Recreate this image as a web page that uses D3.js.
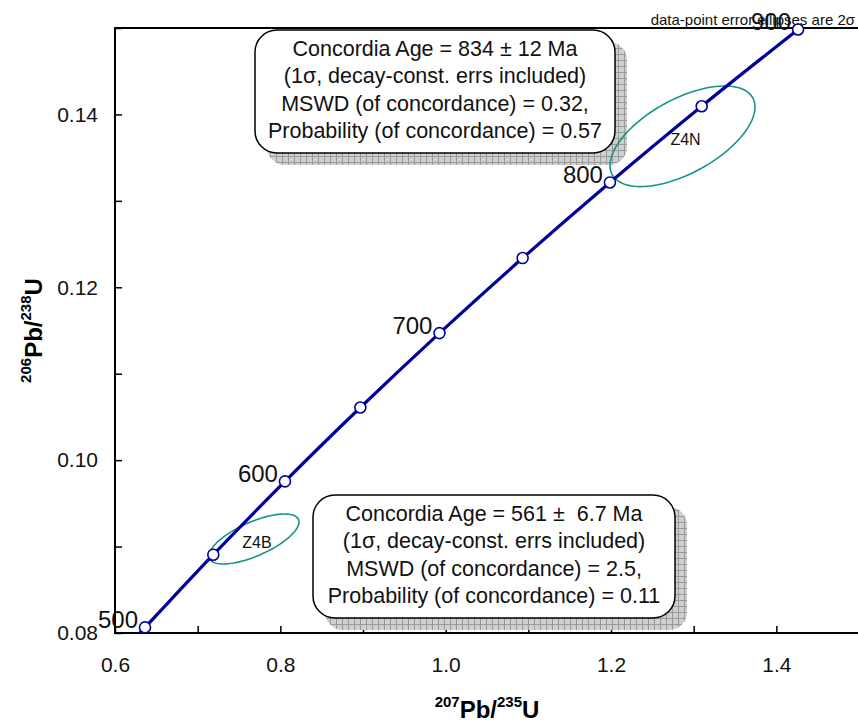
<!DOCTYPE html>
<html>
<head>
<meta charset="utf-8">
<script src="https://cdn.jsdelivr.net/npm/d3@7"></script>
<style>
  html, body { margin: 0; padding: 0; background: #fff; }
  svg { display: block; font-family: Arial, "Liberation Sans", sans-serif; }
  svg text { white-space: pre; }
</style>
</head>
<body>
<div id="concordia"></div>
<script>
// concordia age marks (Ma) and their ratios
var ages = [500, 550, 600, 650, 700, 750, 800, 850, 900];
var pb207u235 = [0.6363, 0.7189, 0.8056, 0.8968, 0.9925, 1.0931, 1.1987, 1.3097, 1.4263];
var pb206u238 = [0.08065, 0.08906, 0.09754, 0.10609, 0.11470, 0.12338, 0.13213, 0.14095, 0.14983];
var labelledAges = [500, 600, 700, 800, 900];

// error ellipses (2 sigma): centre, half extents, error correlation
var ellipseNames = ["Z4B", "Z4N"];
var ellipseCx = [0.7681, 1.2865];
var ellipseCy = [0.09088, 0.13747];
var ellipseHx = [0.0544, 0.0877];
var ellipseHy = [0.00289, 0.00582];
var ellipseRho = [0.68, 0.58];

var xTicks = [0.6, 0.7, 0.8, 0.9, 1.0, 1.1, 1.2, 1.3, 1.4, 1.5];
var xLabels = [0.6, 0.8, 1.0, 1.2, 1.4];
var yTicks = [0.08, 0.09, 0.10, 0.11, 0.12, 0.13, 0.14, 0.15];
var yLabels = [0.08, 0.10, 0.12, 0.14];

var topBoxLines = [
    "Concordia Age = 834 \u00b1 12 Ma",
    "(1\u03c3, decay-const. errs included)",
    "MSWD (of concordance) = 0.32,",
    "Probability (of concordance) = 0.57"
];
var bottomBoxLines = [
    "Concordia Age = 561 \u00b1  6.7 Ma",
    "(1\u03c3, decay-const. errs included)",
    "MSWD (of concordance) = 2.5,",
    "Probability (of concordance) = 0.11"
];

var width = 858, height = 721;
var pLeft = 115, pRight = 859, pTop = 28, pBottom = 633;
var blue = "#00009a", teal = "#16938a";

var svg = d3.select("#concordia").append("svg")
    .attr("width", width).attr("height", height);

var x = d3.scaleLinear().domain([0.6, 1.5]).range([pLeft, pRight]);
var y = d3.scaleLinear().domain([0.08, 0.15]).range([pBottom, pTop]);

var defs = svg.append("defs");
defs.append("clipPath").attr("id", "plotClip").append("rect")
    .attr("x", pLeft).attr("y", pTop).attr("width", pRight - pLeft).attr("height", pBottom - pTop);

var pat = defs.append("pattern").attr("id", "shadowGrid")
    .attr("patternUnits", "userSpaceOnUse").attr("width", 6).attr("height", 6);
pat.append("rect").attr("width", 6).attr("height", 6).attr("fill", "#cfcfcf");
pat.append("path").attr("d", "M0,0.5H6M0.5,0V6").attr("stroke", "#9a9a9a").attr("stroke-width", 1);

// frame: left, bottom and top edges
svg.append("path")
    .attr("d", "M" + pRight + "," + pTop + "H" + pLeft + "V" + pBottom + "H" + pRight)
    .attr("fill", "none").attr("stroke", "#000").attr("stroke-width", 2);

// axes with inward ticks
var xAxis = svg.append("g").attr("transform", "translate(0," + pBottom + ")")
    .call(d3.axisBottom(x).tickValues(xTicks).tickSize(-7).tickFormat(function(d){
        return xLabels.some(function(v){ return Math.abs(v - d) < 1e-9; }) ? d3.format(".1f")(d) : "";
    }).tickPadding(24));
var yAxis = svg.append("g").attr("transform", "translate(" + pLeft + ",0)")
    .call(d3.axisLeft(y).tickValues(yTicks).tickSize(-7).tickFormat(function(d){
        return yLabels.some(function(v){ return Math.abs(v - d) < 1e-9; }) ? d3.format(".2f")(d) : "";
    }).tickPadding(17));
[xAxis, yAxis].forEach(function(ax){
    ax.select(".domain").remove();
    ax.selectAll(".tick line").attr("stroke", "#000").attr("stroke-width", 1.5);
    ax.selectAll(".tick text").attr("fill", "#111").style("font-size", "21px")
        .style("font-family", "Arial, 'Liberation Sans', sans-serif");
});

// axis titles
var xt = svg.append("text").attr("x", (pLeft + pRight) / 2).attr("y", 718)
    .attr("text-anchor", "middle").style("font-weight", "bold").style("font-size", "24px");
xt.append("tspan").text("207").style("font-size", "15px").attr("dy", "-11");
xt.append("tspan").text("Pb/").attr("dy", "11");
xt.append("tspan").text("235").style("font-size", "15px").attr("dy", "-11");
xt.append("tspan").text("U").attr("dy", "11");

var yt = svg.append("text").attr("transform", "translate(42," + (pTop + pBottom) / 2 + ") rotate(-90)")
    .attr("text-anchor", "middle").style("font-weight", "bold").style("font-size", "24px");
yt.append("tspan").text("206").style("font-size", "15px").attr("dy", "-11");
yt.append("tspan").text("Pb/").attr("dy", "11");
yt.append("tspan").text("238").style("font-size", "15px").attr("dy", "-11");
yt.append("tspan").text("U").attr("dy", "11");

// result boxes with hatched drop shadow
var drawBox = function(bx, by, bw, bh, lines, baseline){
    svg.append("rect").attr("x", bx + 12).attr("y", by + 12).attr("width", bw).attr("height", bh)
        .attr("rx", 18).attr("fill", "url(#shadowGrid)");
    svg.append("rect").attr("x", bx).attr("y", by).attr("width", bw).attr("height", bh)
        .attr("rx", 22).attr("fill", "#fff").attr("stroke", "#000").attr("stroke-width", 1.5);
    svg.append("g").selectAll("text").data(lines).enter().append("text")
        .attr("x", bx + bw / 2).attr("y", function(d, i){ return baseline + i * 27.4; })
        .attr("text-anchor", "middle").attr("fill", "#111").style("font-size", "21.5px")
        .text(function(d){ return d; });
};
drawBox(255, 30, 360, 123, topBoxLines, 56);
drawBox(313, 495, 362, 123, bottomBoxLines, 521);

var plot = svg.append("g").attr("clip-path", "url(#plotClip)");

// error ellipses
var ellipsePath = function(i){
    var pts = d3.range(0, 361, 3).map(function(deg){
        var t = deg * Math.PI / 180, r = ellipseRho[i];
        return [ellipseCx[i] + ellipseHx[i] * Math.cos(t),
                ellipseCy[i] + ellipseHy[i] * (r * Math.cos(t) + Math.sqrt(1 - r * r) * Math.sin(t))];
    });
    return d3.line().x(function(p){ return x(p[0]); }).y(function(p){ return y(p[1]); })(pts);
};
plot.selectAll(".ell").data(ellipseNames).enter().append("path").attr("class", "ell")
    .attr("d", function(d, i){ return ellipsePath(i); })
    .attr("fill", "none").attr("stroke", teal).attr("stroke-width", 1.6);
svg.selectAll(".ellLabel").data(ellipseNames).enter().append("text").attr("class", "ellLabel")
    .attr("x", function(d, i){ return x(ellipseCx[i]) + 3; })
    .attr("y", function(d, i){ return y(ellipseCy[i]) + 9; })
    .attr("text-anchor", "middle").attr("fill", "#111").style("font-size", "16px")
    .text(function(d){ return d; });

// concordia curve
var conc = ages.map(function(a, i){ return {age: a, x: pb207u235[i], y: pb206u238[i]}; });
var first = conc[0], second = conc[1];
var tail = {x: first.x - (second.x - first.x) * 0.15, y: first.y - (second.y - first.y) * 0.15};
plot.append("path").datum([tail].concat(conc))
    .attr("d", d3.line().x(function(d){ return x(d.x); }).y(function(d){ return y(d.y); }).curve(d3.curveMonotoneX))
    .attr("fill", "none").attr("stroke", blue).attr("stroke-width", 3.2);

svg.selectAll(".mark").data(conc).enter().append("circle").attr("class", "mark")
    .attr("cx", function(d){ return x(d.x); }).attr("cy", function(d){ return y(d.y); })
    .attr("r", 5.5).attr("fill", "#fff").attr("stroke", blue).attr("stroke-width", 1.6);

svg.selectAll(".ageLabel").data(conc.filter(function(d){ return labelledAges.indexOf(d.age) >= 0; }))
    .enter().append("text").attr("class", "ageLabel")
    .attr("x", function(d){ return x(d.x) - 7; }).attr("y", function(d){ return y(d.y) + 1; })
    .attr("text-anchor", "end").attr("fill", "#111").style("font-size", "24px")
    .text(function(d){ return d.age; });

// note, top right
svg.append("text").attr("x", 855).attr("y", 25).attr("text-anchor", "end")
    .attr("fill", "#111").style("font-size", "15px")
    .text("data-point error ellipses are 2\u03c3");
</script>
</body>
</html>
